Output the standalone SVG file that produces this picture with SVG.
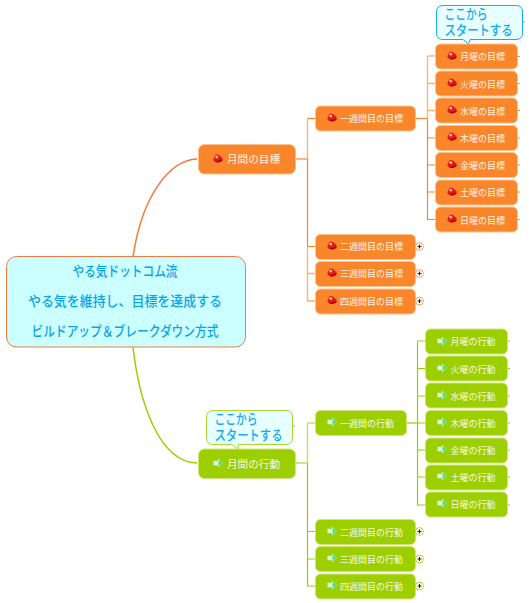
<svg xmlns="http://www.w3.org/2000/svg" width="529" height="603" viewBox="0 0 529 603">
<style>
text{font-family:"Noto Sans CJK JP","Noto Sans",sans-serif}
.o{fill:#f9862a;stroke:#fcc28e;stroke-width:1}
.g{fill:#9dce00;stroke:#cfe77a;stroke-width:1}
.t{fill:#fff;font-size:9px;text-anchor:middle;opacity:.9}
.m{fill:#fff;font-size:10.600px;text-anchor:middle;opacity:.9}
.r{fill:#0aa5e6;font-size:14px;font-weight:500;text-anchor:middle}
.c{fill:#14aaf0;font-size:14px;font-weight:500}
.lo{fill:none;stroke:#f9862a;stroke-width:1.200}
.lol{fill:none;stroke:#fbb478;stroke-width:1.400}
.lg{fill:none;stroke:#9dce00;stroke-width:1.200}
.lgl{fill:none;stroke:#c4e25e;stroke-width:1.400}
.p{fill:#fff;stroke-width:1}
</style>
<defs>
<g id="ruby"><path d="M-1 -4.500C1 -4.500 2 -3.500 2.500 -2.500L4.500 -1V1.500C3 3.500 -2 4.500 -4.500 1.500C-5 -1 -3 -2 -3 -3C-3 -4 -2 -4.500 -1 -4.500Z" fill="#e01818"/><circle cx="-1.200" cy="-2" r="1.500" fill="#ffb0b0"/><path d="M-3 2.500L4.500 0.500V1.500C3 3.500 -1 4.200 -3 2.500Z" fill="#a80c0c"/></g>
<g id="arrow"><path d="M-4.500 -2.200H0V-4.500L4.800 0L0 4.500V2.200H-4.500Z" fill="#d8ffd8"/><path d="M0.500 -3.500L4.800 0L0.500 3.500Z" fill="#55dd88"/></g>
<g id="plus"><circle r="3.300" fill="#fff"/><path d="M-2 0H2M0 -2V2" stroke="#222" stroke-width="1.100"/></g>
</defs>
<g id="connectors">
<path d="M197 159C170 160 142 195 133 257" fill="none" stroke="#f5793f" stroke-width="1.500"/>
<path d="M133 347C139 400 158 462 197 463" fill="none" stroke="#9dce00" stroke-width="1.500"/>
<path class="lo" d="M295 159H307.500"/>
<path class="lol" d="M307.500 118.500V159"/><path class="lo" d="M307.500 118.500H316"/>
<path class="lo" d="M307.500 159V246.500H316"/><path class="lol" d="M307.500 273.500H316M307.500 246.500V301H316"/>
<path class="lo" d="M415 118.500H427.500"/>
<path class="lol" d="M427.500 56H436M427.500 56V118M427.500 83.500H436M427.500 110.500H436M427.500 138H436"/>
<path class="lo" d="M427.500 118.500V219.500H436M427.500 165H436M427.500 192H436"/>
<path class="lo" d="M517 56.500H520M517 83.500H520M517 110.500H520M517 138H520M517 165H520M517 192H520M517 219.500H520"/>
<path class="lo" d="M415 247H417M415 274H417M415 301H417"/>
<path class="lo" d="M523 22H525"/>
<path class="lg" d="M295 463H307.500V586H316M307.500 531.500H316M307.500 559H316"/>
<path class="lgl" d="M307.500 423H316M307.500 423V463"/>
<path class="lg" d="M406 423H417.500"/>
<path class="lg" d="M417.500 341H426M417.500 341V505H426M417.500 368.500H426M417.500 396H426M417.500 423H426M417.500 450H426M417.500 477H426"/>
<path class="lg" d="M507 341H510M507 368.500H510M507 396H510M507 423H510M507 450H510M507 477H510M507 505H510"/>
<path class="lg" d="M415 532H417M415 559H417M415 586H417"/>
<path class="lgl" d="M293 426H295"/>
</g>
<g id="root"><rect x="6.500" y="256.500" width="239" height="90.500" rx="10" fill="#ccffff" stroke="#f5793f"/><text class="r" x="125" y="276" textLength="105" lengthAdjust="spacingAndGlyphs">やる気ドットコム流</text><text class="r" x="125" y="306" textLength="194" lengthAdjust="spacingAndGlyphs">やる気を維持し、目標を達成する</text><text class="r" x="125" y="336" textLength="187" lengthAdjust="spacingAndGlyphs">ビルドアップ＆ブレークダウン方式</text></g>
<g id="callout-top"><path d="M443 5.500H516Q522.500 5.500 522.500 12V33Q522.500 39.500 516 39.500H470L468.500 44L463 39.500H443Q436.500 39.500 436.500 33V12Q436.500 5.500 443 5.500Z" fill="#e8ffff" stroke="#14b0e8"/><text class="c"><tspan x="444.500" y="19" textLength="43" lengthAdjust="spacingAndGlyphs">ここから</tspan><tspan x="444.500" y="34.500" textLength="68" lengthAdjust="spacingAndGlyphs">スタートする</tspan></text></g>
<g id="callout-bottom"><path d="M213 410.500H286Q292.500 410.500 292.500 417V438Q292.500 444.500 286 444.500H238.500L238 449L232 444.500H213Q206.500 444.500 206.500 438V417Q206.500 410.500 213 410.500Z" fill="#e8ffff" stroke="#a8d830"/><text class="c"><tspan x="214.500" y="424" textLength="43" lengthAdjust="spacingAndGlyphs">ここから</tspan><tspan x="214.500" y="439.500" textLength="68" lengthAdjust="spacingAndGlyphs">スタートする</tspan></text></g>
<g id="n-month-goal"><rect class="o" x="198.500" y="144.500" width="97" height="29.500" rx="6"/><use href="#ruby" x="218" y="159"/><text class="m" x="253.500" y="163">月間の目標</text></g>
<g id="n-w1-goal"><rect class="o" x="315.500" y="106" width="100" height="25" rx="5"/><use href="#ruby" x="332" y="118"/><text class="t" x="371.500" y="122">一週間目の目標</text></g>
<g id="n-w2-goal"><rect class="o" x="315.500" y="234.500" width="100" height="25" rx="5"/><use href="#ruby" x="332" y="246"/><text class="t" x="371.500" y="250">二週間目の目標</text></g>
<g id="n-w3-goal"><rect class="o" x="315.500" y="261.500" width="100" height="25" rx="5"/><use href="#ruby" x="332" y="273"/><text class="t" x="371.500" y="277">三週間目の目標</text></g>
<g id="n-w4-goal"><rect class="o" x="315.500" y="289" width="100" height="25" rx="5"/><use href="#ruby" x="332" y="300.500"/><text class="t" x="371.500" y="305">四週間目の目標</text></g>
<g id="plus-goal"><circle class="p" cx="419.500" cy="246.500" r="3.800" stroke="#f9862a"/><use href="#plus" x="419.500" y="246.500"/><circle class="p" cx="419.500" cy="273.500" r="3.800" stroke="#f9862a"/><use href="#plus" x="419.500" y="273.500"/><circle class="p" cx="419.500" cy="301" r="3.800" stroke="#f9862a"/><use href="#plus" x="419.500" y="301"/></g>
<g id="n-mon-goal"><rect class="o" x="435.500" y="44" width="82" height="25" rx="5"/><use href="#ruby" x="452" y="56"/><text class="t" x="482.500" y="60">月曜の目標</text></g>
<g id="n-tue-goal"><rect class="o" x="435.500" y="71" width="82" height="25" rx="5"/><use href="#ruby" x="452" y="83"/><text class="t" x="482.500" y="87.500">火曜の目標</text></g>
<g id="n-wed-goal"><rect class="o" x="435.500" y="98" width="82" height="25" rx="5"/><use href="#ruby" x="452" y="110"/><text class="t" x="482.500" y="114.500">水曜の目標</text></g>
<g id="n-thu-goal"><rect class="o" x="435.500" y="125.500" width="82" height="25" rx="5"/><use href="#ruby" x="452" y="137"/><text class="t" x="482.500" y="141.500">木曜の目標</text></g>
<g id="n-fri-goal"><rect class="o" x="435.500" y="152.500" width="82" height="25" rx="5"/><use href="#ruby" x="452" y="164.500"/><text class="t" x="482.500" y="169">金曜の目標</text></g>
<g id="n-sat-goal"><rect class="o" x="435.500" y="180" width="82" height="25" rx="5"/><use href="#ruby" x="452" y="192"/><text class="t" x="482.500" y="196">土曜の目標</text></g>
<g id="n-sun-goal"><rect class="o" x="435.500" y="207" width="82" height="25" rx="5"/><use href="#ruby" x="452" y="219"/><text class="t" x="482.500" y="223.500">日曜の目標</text></g>
<g id="n-month-act"><rect class="g" x="198.500" y="449" width="97" height="29.500" rx="6"/><use href="#arrow" x="218" y="463"/><text class="m" x="253.500" y="467.500">月間の行動</text></g>
<g id="n-w1-act"><rect class="g" x="315.500" y="410.500" width="91" height="25" rx="5"/><use href="#arrow" x="332" y="422"/><text class="t" x="367" y="427">一週間の行動</text></g>
<g id="n-w2-act"><rect class="g" x="315.500" y="519.500" width="100" height="25" rx="5"/><use href="#arrow" x="332" y="531"/><text class="t" x="371.500" y="536">二週間目の行動</text></g>
<g id="n-w3-act"><rect class="g" x="315.500" y="546.500" width="100" height="25" rx="5"/><use href="#arrow" x="332" y="558"/><text class="t" x="371.500" y="563">三週間目の行動</text></g>
<g id="n-w4-act"><rect class="g" x="315.500" y="574" width="100" height="25" rx="5"/><use href="#arrow" x="332" y="585"/><text class="t" x="371.500" y="590">四週間目の行動</text></g>
<g id="plus-act"><circle class="p" cx="419.500" cy="531.500" r="3.800" stroke="#9dce00"/><use href="#plus" x="419.500" y="531.500"/><circle class="p" cx="419.500" cy="559" r="3.800" stroke="#9dce00"/><use href="#plus" x="419.500" y="559"/><circle class="p" cx="419.500" cy="586" r="3.800" stroke="#9dce00"/><use href="#plus" x="419.500" y="586"/></g>
<g id="n-mon-act"><rect class="g" x="425.500" y="329" width="82" height="25" rx="5"/><use href="#arrow" x="442" y="341"/><text class="t" x="473" y="345">月曜の行動</text></g>
<g id="n-tue-act"><rect class="g" x="425.500" y="356" width="82" height="25" rx="5"/><use href="#arrow" x="442" y="368"/><text class="t" x="473" y="373">火曜の行動</text></g>
<g id="n-wed-act"><rect class="g" x="425.500" y="383" width="82" height="25" rx="5"/><use href="#arrow" x="442" y="395"/><text class="t" x="473" y="400">水曜の行動</text></g>
<g id="n-thu-act"><rect class="g" x="425.500" y="410.500" width="82" height="25" rx="5"/><use href="#arrow" x="442" y="422"/><text class="t" x="473" y="427">木曜の行動</text></g>
<g id="n-fri-act"><rect class="g" x="425.500" y="438" width="82" height="25" rx="5"/><use href="#arrow" x="442" y="449"/><text class="t" x="473" y="454">金曜の行動</text></g>
<g id="n-sat-act"><rect class="g" x="425.500" y="465" width="82" height="25" rx="5"/><use href="#arrow" x="442" y="476"/><text class="t" x="473" y="481">土曜の行動</text></g>
<g id="n-sun-act"><rect class="g" x="425.500" y="492" width="82" height="25" rx="5"/><use href="#arrow" x="442" y="503"/><text class="t" x="473" y="508">日曜の行動</text></g>
</svg>
